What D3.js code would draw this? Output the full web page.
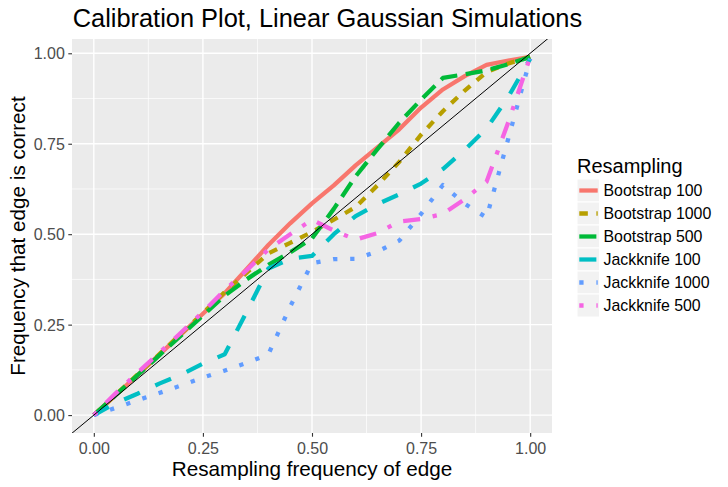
<!DOCTYPE html>
<html>
<head>
<meta charset="utf-8">
<script src="https://cdn.jsdelivr.net/npm/d3@7"></script>
<style>
  body { margin: 0; background: #fff; }
  svg { display: block; font-family: "Liberation Sans", Arial, sans-serif; }
  .tick-label { fill: #4d4d4d; font-size: 16px; }
  .axis-title { fill: #000; font-size: 20.7px; }
  .legend-title { fill: #000; font-size: 20px; }
  .legend-label { fill: #000; font-size: 15.9px; }
</style>
</head>
<body>
<div id="chart"></div>
<script>
// resampling frequency bins
const freq = [0, 0.05, 0.1, 0.15, 0.2, 0.25, 0.3, 0.35, 0.4, 0.45, 0.5,
  0.55, 0.6, 0.65, 0.7, 0.75, 0.8, 0.85, 0.9, 0.95, 1.0];

// frequency that edge is correct, one array per resampling setting
const bootstrap100 = [0, 0.055, 0.11, 0.167, 0.223, 0.28, 0.337, 0.403, 0.47, 0.53, 0.585,
  0.635, 0.69, 0.74, 0.79, 0.85, 0.9, 0.937, 0.968, 0.98, 0.99];
const bootstrap1000 = [0, 0.056, 0.112, 0.168, 0.225, 0.282, 0.34, 0.393, 0.447, 0.476, 0.506,
  0.54, 0.575, 0.635, 0.7, 0.775, 0.84, 0.897, 0.948, 0.972, 0.99];
const bootstrap500 = [0, 0.055, 0.11, 0.165, 0.22, 0.275, 0.33, 0.375, 0.415, 0.45, 0.488,
  0.57, 0.66, 0.735, 0.808, 0.872, 0.932, 0.942, 0.953, 0.97, 0.99];
const jackknife100 = [0, 0.033, 0.059, 0.087, 0.112, 0.142, 0.168, 0.285, 0.405, 0.432, 0.44,
  0.5, 0.55, 0.583, 0.61, 0.64, 0.68, 0.733, 0.792, 0.88, 0.985];
const jackknife1000 = [0, 0.02, 0.041, 0.061, 0.082, 0.104, 0.123, 0.144, 0.168, 0.3, 0.42,
  0.431, 0.432, 0.452, 0.482, 0.556, 0.636, 0.584, 0.546, 0.765, 0.985];
const jackknife500 = [0, 0.06, 0.117, 0.172, 0.228, 0.285, 0.345, 0.4, 0.458, 0.5, 0.54,
  0.51, 0.485, 0.503, 0.535, 0.542, 0.556, 0.597, 0.645, 0.81, 0.99];

const seriesNames = ["Bootstrap 100", "Bootstrap 1000", "Bootstrap 500",
  "Jackknife 100", "Jackknife 1000", "Jackknife 500"];
const seriesValues = [bootstrap100, bootstrap1000, bootstrap500,
  jackknife100, jackknife1000, jackknife500];

const tickValues = [0, 0.25, 0.5, 0.75, 1.0];
const minorTicks = [0.125, 0.375, 0.625, 0.875];

// ggplot hue palette and default linetypes ("solid","22","42","44","13","1343")
const colors = ["#F8766D", "#B79F00", "#00BA38", "#00BFC4", "#619CFF", "#F564E3"];
const lwd = 4.27;
const dashes = [null, [2, 2], [4, 2], [4, 4], [1, 3], [1, 3, 4, 3]];

const width = 728;
const height = 487;
const margin = { top: 39, right: 176, bottom: 54, left: 72 };

const series = seriesNames.map((name, i) => ({
  name,
  color: colors[i],
  dash: dashes[i] ? dashes[i].map((d) => d * lwd).join(",") : null,
  points: freq.map((f, j) => ({ x: f, y: seriesValues[i][j] })),
}));

function expand([lo, hi]) {
  const pad = (hi - lo) * 0.05;
  return [lo - pad, hi + pad];
}

const xScale = d3.scaleLinear()
  .domain(expand(d3.extent(freq)))
  .range([margin.left, width - margin.right]);
const yScale = d3.scaleLinear()
  .domain(expand(d3.extent(seriesValues.flat())))
  .range([height - margin.bottom, margin.top]);

const svg = d3.select("#chart").append("svg")
  .attr("width", width)
  .attr("height", height);

const [px0, px1] = xScale.range();
const [py1, py0] = yScale.range();

svg.append("defs").append("clipPath").attr("id", "panel-clip")
  .append("rect")
  .attr("x", px0).attr("y", py0)
  .attr("width", px1 - px0).attr("height", py1 - py0);

svg.append("rect")
  .attr("x", px0).attr("y", py0)
  .attr("width", px1 - px0).attr("height", py1 - py0)
  .attr("fill", "#ebebeb");

const grid = svg.append("g");
grid.selectAll(".minor-x").data(minorTicks).join("line")
  .attr("x1", (d) => xScale(d)).attr("x2", (d) => xScale(d))
  .attr("y1", py0).attr("y2", py1)
  .attr("stroke", "#fff").attr("stroke-width", 0.7);
grid.selectAll(".minor-y").data(minorTicks).join("line")
  .attr("x1", px0).attr("x2", px1)
  .attr("y1", (d) => yScale(d)).attr("y2", (d) => yScale(d))
  .attr("stroke", "#fff").attr("stroke-width", 0.7);
grid.selectAll(".major-x").data(tickValues).join("line")
  .attr("x1", (d) => xScale(d)).attr("x2", (d) => xScale(d))
  .attr("y1", py0).attr("y2", py1)
  .attr("stroke", "#fff").attr("stroke-width", 1.4);
grid.selectAll(".major-y").data(tickValues).join("line")
  .attr("x1", px0).attr("x2", px1)
  .attr("y1", (d) => yScale(d)).attr("y2", (d) => yScale(d))
  .attr("stroke", "#fff").attr("stroke-width", 1.4);

const line = d3.line().x((d) => xScale(d.x)).y((d) => yScale(d.y));

const lineLayer = svg.append("g").attr("clip-path", "url(#panel-clip)");
lineLayer.selectAll(".series").data(series).join("path")
  .attr("class", "series")
  .attr("d", (d) => line(d.points))
  .attr("fill", "none")
  .attr("stroke", (d) => d.color)
  .attr("stroke-width", lwd)
  .attr("stroke-dasharray", (d) => d.dash)
  .attr("stroke-linejoin", "round");

// y = x reference line across the panel
const diag = xScale.domain();
lineLayer.append("path")
  .attr("d", line(diag.map((v) => ({ x: v, y: v }))))
  .attr("stroke", "#000")
  .attr("stroke-width", 1);

// axes
const xAxis = d3.axisBottom(xScale).tickValues(tickValues)
  .tickFormat(d3.format(".2f")).tickSize(3.7).tickPadding(3);
const yAxis = d3.axisLeft(yScale).tickValues(tickValues)
  .tickFormat(d3.format(".2f")).tickSize(3.7).tickPadding(3.5);

const gx = svg.append("g").attr("transform", `translate(0,${py1})`).call(xAxis);
const gy = svg.append("g").attr("transform", `translate(${px0},0)`).call(yAxis);
[gx, gy].forEach((g) => {
  g.select(".domain").remove();
  g.selectAll(".tick line").attr("stroke", "#333").attr("stroke-width", 1.1);
  g.selectAll(".tick text").attr("class", "tick-label").attr("fill", null)
    .attr("font-family", null).attr("font-size", null);
});
gx.selectAll(".tick text").attr("dy", "0.9em");
gy.selectAll(".tick text").attr("dy", "0.34em");

svg.append("text")
  .attr("x", px0 + 0.7).attr("y", 27.3)
  .attr("font-size", 25.4).attr("fill", "#000")
  .text("Calibration Plot, Linear Gaussian Simulations");

svg.append("text").attr("class", "axis-title")
  .attr("x", (px0 + px1) / 2).attr("y", 476)
  .attr("text-anchor", "middle")
  .text("Resampling frequency of edge");

svg.append("text").attr("class", "axis-title")
  .attr("transform", `translate(25,${(py0 + py1) / 2}) rotate(-90)`)
  .attr("text-anchor", "middle")
  .text("Frequency that edge is correct");

// legend
const keySize = 23;
const legend = svg.append("g").attr("transform", `translate(577,179)`);
legend.append("text").attr("class", "legend-title")
  .attr("x", 0).attr("y", -5.7)
  .text("Resampling");

const keys = legend.selectAll(".key").data(series).join("g")
  .attr("class", "key")
  .attr("transform", (d, i) => `translate(0,${i * keySize})`);
keys.append("rect")
  .attr("width", keySize - 0.5).attr("height", keySize)
  .attr("fill", "#f2f2f2").attr("stroke", "#fff").attr("stroke-width", 1);
keys.append("line")
  .attr("x1", keySize * 0.1).attr("x2", keySize * 0.9)
  .attr("y1", keySize / 2).attr("y2", keySize / 2)
  .attr("stroke", (d) => d.color)
  .attr("stroke-width", lwd)
  .attr("stroke-dasharray", (d) => d.dash);
keys.append("text").attr("class", "legend-label")
  .attr("x", keySize + 3.5).attr("y", keySize / 2 + 5.5)
  .text((d) => d.name);
</script>
</body>
</html>
